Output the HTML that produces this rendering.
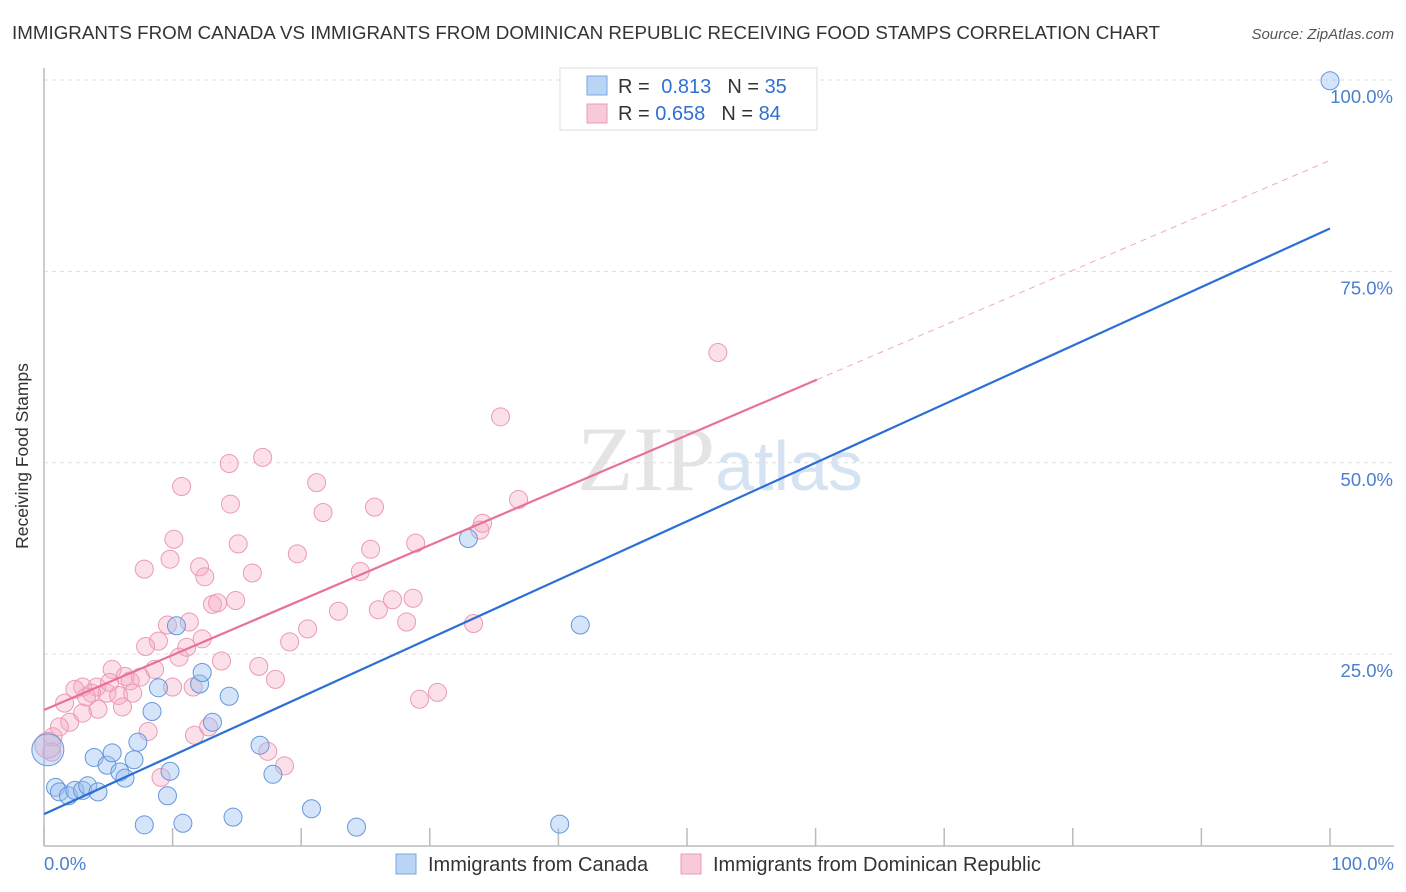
<!DOCTYPE html>
<html><head><meta charset="utf-8"><style>
body{margin:0;background:#fff;font-family:"Liberation Sans",sans-serif;}
svg{display:block}
</style></head><body>
<svg width="1406" height="892" viewBox="0 0 1406 892">
<text x="12" y="39" font-size="18" fill="#333" textLength="1148" lengthAdjust="spacingAndGlyphs">IMMIGRANTS FROM CANADA VS IMMIGRANTS FROM DOMINICAN REPUBLIC RECEIVING FOOD STAMPS CORRELATION CHART</text>
<text x="1394" y="39" font-size="15" fill="#555" font-style="italic" text-anchor="end">Source: ZipAtlas.com</text>
<text x="720" y="490" font-size="92" fill="#e4e4e4" text-anchor="middle" font-family="Liberation Serif,serif">ZIP<tspan fill="#d6e3f3" font-family="Liberation Sans,sans-serif" font-size="70">atlas</tspan></text>
<g id="grid"></g>
<g id="axes"></g>
<g id="marks"></g>
<text x="28" y="456" font-size="17.5" fill="#333" text-anchor="middle" transform="rotate(-90 28 456)">Receiving Food Stamps</text>
<g>
<rect x="560" y="68" width="257" height="62" fill="#fff" stroke="#ddd"/>
<rect x="587" y="76" width="20" height="19" fill="#b9d4f5" stroke="#7aa7e0"/>
<rect x="587" y="104" width="20" height="19" fill="#f8c9d8" stroke="#eb9cb5"/>
<text x="618" y="93" font-size="20" fill="#333">R = <tspan fill="#3070d0" dx="6">0.813</tspan><tspan dx="16" fill="#333">N = </tspan><tspan fill="#3070d0">35</tspan></text>
<text x="618" y="120" font-size="20" fill="#333">R = <tspan fill="#3070d0">0.658</tspan><tspan dx="16" fill="#333">N = </tspan><tspan fill="#3070d0">84</tspan></text>
</g>
<g>
<rect x="396" y="854" width="20" height="20" fill="#b9d4f5" stroke="#7aa7e0"/>
<text x="428" y="871" font-size="20" fill="#333">Immigrants from Canada</text>
<rect x="681" y="854" width="20" height="20" fill="#f8c9d8" stroke="#eb9cb5"/>
<text x="713" y="871" font-size="20" fill="#333">Immigrants from Dominican Republic</text>
</g>
<text x="44" y="870" font-size="18.5" fill="#4a7fd0">0.0%</text>
<text x="1394" y="870" font-size="18.5" fill="#4a7fd0" text-anchor="end">100.0%</text>
</svg>
<script>
const yTicks=[100,75,50,25];
const yTickLabels=["100.0%","75.0%","50.0%","25.0%"];
const xTicks=[0,10,20,30,40,50,60,70,80,90,100];
const canadaX=[0.9,1.2,1.9,2.4,3.0,3.4,4.2,3.9,4.9,5.3,5.9,6.3,7.0,7.3,8.4,8.9,9.6,9.8,10.3,7.8,10.8,12.1,12.3,13.1,14.4,14.7,16.8,17.8,20.8,24.3,33.0,40.1,41.7,100,0.3];
const canadaY=[7.6,7.0,6.5,7.2,7.2,7.8,7.0,11.5,10.5,12.1,9.6,8.8,11.2,13.5,17.5,20.6,6.5,9.7,28.7,2.7,2.9,21.1,22.6,16.1,19.5,3.7,13.1,9.3,4.8,2.4,40.1,2.8,28.8,99.9,12.5];
const canadaR=[9,9,9,9,9,9,9,9,9,9,9,9,9,9,9,9,9,9,9,9,9,9,9,9,9,9,9,9,9,9,9,9,9,9,16];
const domX=[14.4,17.0,10.7,21.2,14.5,21.7,10.1,15.1,19.7,9.8,7.8,12.1,12.5,16.2,13.1,13.5,14.9,22.9,11.3,9.6,20.5,8.9,7.9,11.1,12.3,19.1,10.5,13.8,16.7,18.0,5.3,8.6,7.5,10.0,11.6,6.3,6.7,3.0,2.4,4.1,3.7,4.9,5.8,6.9,1.6,3.0,4.2,6.1,2.0,1.2,0.7,0.6,8.1,11.7,12.8,17.4,18.7,9.1,5.1,3.3,52.4,35.5,36.9,34.1,33.9,25.7,28.9,25.4,24.6,27.1,26.0,28.7,28.2,33.4,30.6,29.2,0.3];
const domY=[49.9,50.7,46.9,47.4,44.6,43.5,40.0,39.4,38.1,37.4,36.1,36.4,35.1,35.6,31.5,31.7,32.0,30.6,29.2,28.8,28.3,26.7,26.0,25.9,27.0,26.6,24.6,24.1,23.4,21.7,23.0,23.0,22.0,20.7,20.7,22.1,21.5,20.7,20.4,20.7,19.9,19.9,19.6,19.9,18.6,17.3,17.8,18.1,16.1,15.5,14.2,12.2,14.9,14.4,15.5,12.3,10.4,8.9,21.3,19.4,64.4,56.0,45.2,42.1,41.2,44.2,39.5,38.7,35.8,32.1,30.8,32.3,29.2,29.0,20.0,19.1,13.1];
const canadaLine=[4.1,80.6];
const domLine=[17.7,89.5];
const domSolidEnd=60.1;

const NS="http://www.w3.org/2000/svg";
const X0=44,X1=1330,Y0=845.5,Y100=80;
const sx=v=>X0+(X1-X0)*v/100;
const sy=v=>Y0-(Y0-Y100)*v/100;
function mk(tag,attrs,parent){const e=document.createElementNS(NS,tag);for(const k in attrs)e.setAttribute(k,attrs[k]);parent.appendChild(e);return e;}
const grid=document.getElementById('grid'),axes=document.getElementById('axes'),marks=document.getElementById('marks');
yTicks.forEach((t,i)=>{
  const l=mk('line',{x1:44,x2:1394,y1:sy(t),y2:sy(t),stroke:'#ddd','stroke-dasharray':'4 4'},grid);
  
  
  const tx=mk('text',{x:1393,y:sy(t)+23,'font-size':18.5,fill:'#4a7fd0','text-anchor':'end'},grid);
  tx.textContent=yTickLabels[i];
  
  
});
const ya=mk('line',{x1:44,x2:44,y1:68,y2:846,stroke:'#bbb','stroke-width':1.5},axes);


const xa=mk('line',{x1:44,x2:1394,y1:846,y2:846,stroke:'#bbb','stroke-width':1.5},axes);


xTicks.forEach(t=>{
  const l=mk('line',{x1:sx(t),x2:sx(t),y1:828,y2:846,stroke:'#bbb','stroke-width':1.5},axes);
  
  
});
domX.forEach((x,i)=>{
  const c=mk('circle',{cx:sx(x),cy:sy(domY[i]),r:i===domX.length-1?13:9,fill:'rgba(245,165,192,0.35)',stroke:'#eb9ab5','stroke-width':1},marks);
  
  
});
canadaX.forEach((x,i)=>{
  const c=mk('circle',{cx:sx(x),cy:sy(canadaY[i]),r:canadaR[i],fill:'rgba(150,190,240,0.4)',stroke:'#6696db','stroke-width':1},marks);
  
  
});
const dy=v=>domLine[0]+(domLine[1]-domLine[0])*v/100;
const ps=mk('line',{x1:sx(0),y1:sy(dy(0)),x2:sx(domSolidEnd),y2:sy(dy(domSolidEnd)),stroke:'#e8709a','stroke-width':2.2},marks);


const pd=mk('line',{x1:sx(domSolidEnd),y1:sy(dy(domSolidEnd)),x2:sx(100),y2:sy(dy(100)),stroke:'#eeaac0','stroke-width':1,'stroke-dasharray':'6 5'},marks);


const bl=mk('line',{x1:sx(0),y1:sy(canadaLine[0]),x2:sx(100),y2:sy(canadaLine[1]),stroke:'#2b6fd6','stroke-width':2.2},marks);


</script>
</body></html>
